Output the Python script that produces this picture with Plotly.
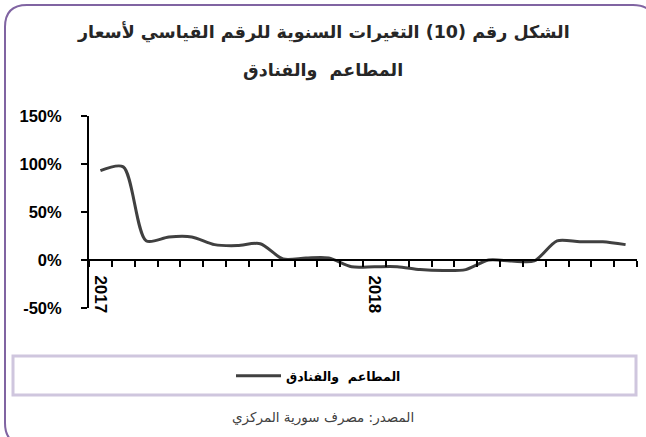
import plotly.graph_objects as go

# ---- data ----
months = [f"{y}-{m:02d}" for y in (2017, 2018) for m in range(1, 13)]
values = [93, 97, 20, 24, 24, 16, 15, 17, 1, 2, 2, -7,
          -7, -7, -10, -11, -10, 0, -1, -1, 20, 19, 19, 16]
tick_text = ["2017"] + [""] * 11 + ["2018"] + [""] * 11
y_ticks = [-50, 0, 50, 100, 150]
y_labels = ["-50%", "0%", "50%", "100%", "150%"]
series_name = "المطاعم  والفنادق"
title_1 = "الشكل رقم (10) التغيرات السنوية للرقم القياسي لأسعار"
title_2 = "المطاعم  والفنادق"
source = "المصدر: مصرف سورية المركزي"

W, H = 646, 437
L, R, T, B = 89, 9, 116, 129
PW, PH = W - L - R, H - T - B


def px(x):
    return (x - L) / PW


def py(y):
    return (H - B - y) / PH


ARABIC = "DejaVu Sans"
LATIN = "Liberation Sans, Arial"

fig = go.Figure()
fig.add_trace(go.Scatter(
    x=months, y=values, mode="lines", name=series_name,
    line=dict(color="#404040", width=3, shape="spline", smoothing=0.8),
    showlegend=True,
))

fig.update_layout(
    width=W, height=H,
    margin=dict(l=L, r=R, t=T, b=B),
    paper_bgcolor="white", plot_bgcolor="white",
    showlegend=True,
    legend=dict(
        x=px(231), y=py(376), xanchor="left", yanchor="middle",
        orientation="h", bgcolor="rgba(0,0,0,0)",
        font=dict(family=ARABIC, size=12.5, color="#000000", weight=700),
        itemwidth=45,
    ),
    xaxis=dict(
        type="category", categoryorder="array", categoryarray=months,
        tickmode="array", tickvals=months, ticktext=tick_text,
        tickson="boundaries", ticks="outside", ticklen=6, tickwidth=2,
        tickcolor="black", showline=True, linecolor="black", linewidth=2,
        anchor="free", position=0.25, tickangle=90,
        tickfont=dict(family=LATIN, size=17, color="black", weight=700),
        showgrid=False, zeroline=False, range=[-0.5, 23.5],
        ticklabelstandoff=11,
    ),
    yaxis=dict(
        range=[-50, 150], tickmode="array", tickvals=y_ticks, ticktext=y_labels,
        ticks="outside", ticklen=6, tickwidth=2, tickcolor="black",
        showline=True, linecolor="black", linewidth=2,
        showgrid=False, zeroline=False,
        tickfont=dict(family=LATIN, size=16.5, color="black", weight=700),
        ticklabelstandoff=16,
    ),
)

# outer rounded border
x0, x1, y0, y1, r = 5, 655, 5, 445, 22
path = (
    f"M {px(x0 + r)},{py(y0)} L {px(x1 - r)},{py(y0)} "
    f"Q {px(x1)},{py(y0)} {px(x1)},{py(y0 + r)} "
    f"L {px(x1)},{py(y1 - r)} Q {px(x1)},{py(y1)} {px(x1 - r)},{py(y1)} "
    f"L {px(x0 + r)},{py(y1)} Q {px(x0)},{py(y1)} {px(x0)},{py(y1 - r)} "
    f"L {px(x0)},{py(y0 + r)} Q {px(x0)},{py(y0)} {px(x0 + r)},{py(y0)} Z"
)
fig.add_shape(type="path", path=path, xref="paper", yref="paper",
              line=dict(color="#8064A2", width=2), layer="below")

# legend box
fig.add_shape(type="rect", xref="paper", yref="paper",
              x0=px(13), x1=px(636), y0=py(356), y1=py(395),
              line=dict(color="#CFC6DE", width=3), layer="below")

# title
fig.add_annotation(text=f"<b>{title_1}</b>", xref="paper", yref="paper",
                   x=px(323), y=py(32), showarrow=False,
                   xanchor="center", yanchor="middle",
                   font=dict(family=ARABIC, size=17.5, color="#262626"))
fig.add_annotation(text=f"<b>{title_2}</b>", xref="paper", yref="paper",
                   x=px(323), y=py(70), showarrow=False,
                   xanchor="center", yanchor="middle",
                   font=dict(family=ARABIC, size=17.5, color="#262626"))

# source
fig.add_annotation(text=source, xref="paper", yref="paper",
                   x=px(323), y=py(417), showarrow=False,
                   xanchor="center", yanchor="middle",
                   font=dict(family=ARABIC, size=13.5, color="#404040"))

fig.write_html("out.html", config={"displayModeBar": False},
               post_script="document.body.style.margin='0';")
